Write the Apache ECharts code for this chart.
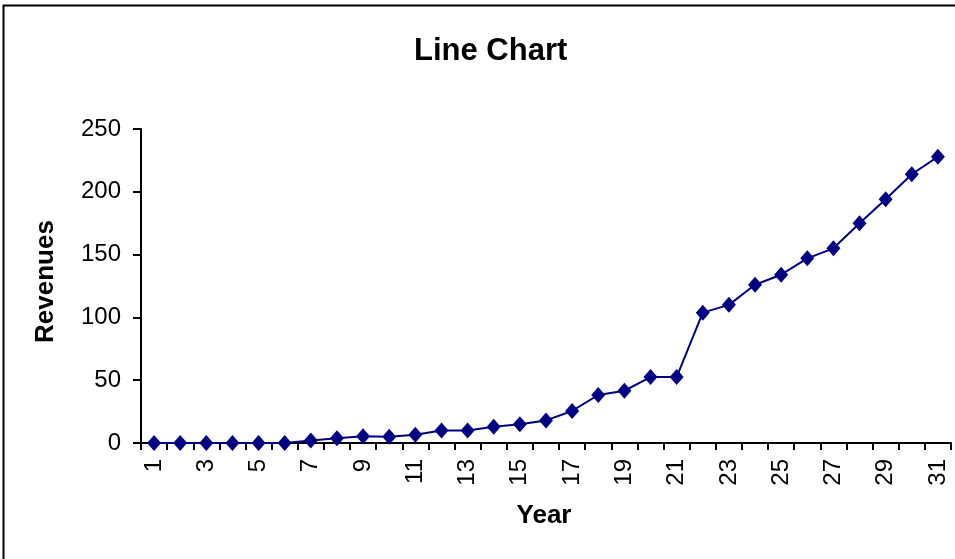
<!DOCTYPE html>
<html>
<head>
<meta charset="utf-8">
<script src="https://cdn.jsdelivr.net/npm/echarts@6/dist/echarts.min.js"></script>
<style>
html,body{margin:0;padding:0;background:#fff;}
#chart{width:955px;height:559px;}
</style>
</head>
<body>
<div id="chart"></div>
<script>
const years = ['1','2','3','4','5','6','7','8','9','10','11','12','13','14','15','16','17','18','19','20','21','22','23','24','25','26','27','28','29','30','31'];
const revenues = [0,0,0,0,0,0,2,3.7,5.3,5,6.6,10,10,13,14.9,18,25.5,38.2,41.6,52.5,52.5,103.8,110,126,134,147,155,175,194,214,228];
const yTicks = [0,50,100,150,200,250];

const chart = echarts.init(document.getElementById('chart'), null, {renderer:'canvas'});
const font = 'Liberation Sans, Arial, sans-serif';
chart.setOption({
  animation:false,
  backgroundColor:'#fff',
  title:{
    text:'Line Chart', left:409, top:31,
    textStyle:{fontFamily:font,fontSize:31,fontWeight:'bold',color:'#000'}
  },
  graphic:[{
    type:'rect', shape:{x:3.5,y:5.5,width:1000,height:1000},
    style:{fill:'none',stroke:'#000',lineWidth:2}, silent:true
  }],
  grid:{left:141,right:4,top:129,bottom:116,containLabel:false},
  xAxis:{
    type:'category', data:years, boundaryGap:true,
    name:'Year', nameLocation:'middle', nameGap:60,
    nameTextStyle:{fontFamily:font,fontSize:26,fontWeight:'bold',color:'#000',padding:[0,4,0,0]},
    axisLine:{lineStyle:{color:'#000',width:2}},
    axisTick:{show:true,length:7,alignWithLabel:false,interval:0,lineStyle:{color:'#000',width:2}},
    axisLabel:{interval:1,rotate:90,margin:16,fontFamily:font,fontSize:24,color:'#000'},
    splitLine:{show:false}
  },
  yAxis:{
    type:'value', min:0, max:250, interval:50,
    name:'Revenues', nameLocation:'middle', nameGap:82, nameRotate:90,
    nameTextStyle:{fontFamily:font,fontSize:26,fontWeight:'bold',color:'#000',padding:[0,0,0,9]},
    axisLine:{show:true,lineStyle:{color:'#000',width:2}},
    axisTick:{show:true,length:8,lineStyle:{color:'#000',width:2}},
    axisLabel:{margin:20,fontFamily:font,fontSize:24,color:'#000',
      formatter:function(v){return yTicks.indexOf(v)>=0?String(v):'';}},
    splitLine:{show:false}
  },
  series:[{
    type:'line', data:revenues,
    symbol:'diamond', symbolSize:[14,16], showAllSymbol:true,
    lineStyle:{color:'#000080',width:2},
    itemStyle:{color:'#000080'}
  }]
});
</script>
</body>
</html>
